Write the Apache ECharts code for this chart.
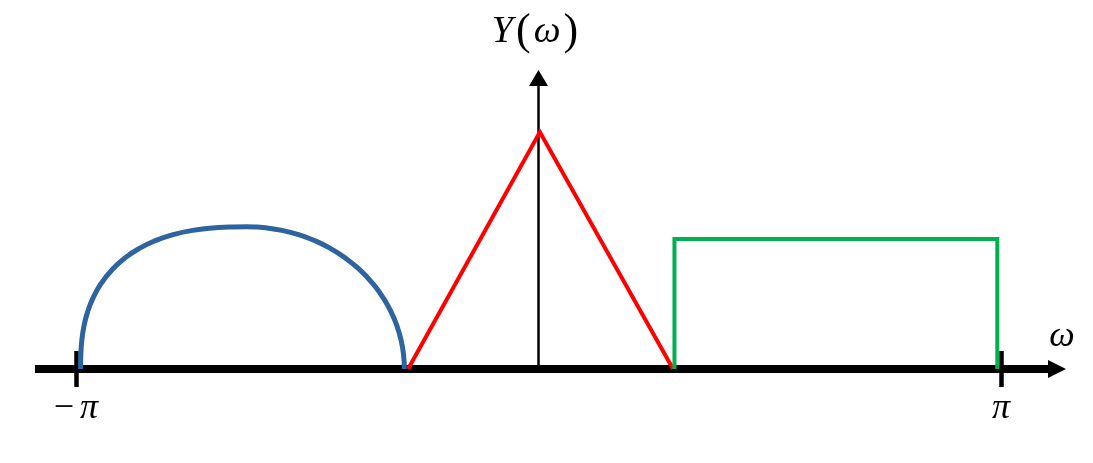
<!DOCTYPE html>
<html>
<head>
<meta charset="utf-8">
<script src="https://cdn.jsdelivr.net/npm/echarts@6/dist/echarts.min.js"></script>
<style>
html,body{margin:0;padding:0;background:#fff;}
#chart{width:1093px;height:463px;}
</style>
</head>
<body>
<div id="chart"></div>
<script>
// x values are in units of pi, y values relative to the triangle's peak height
const xTickValues = [-1, 1];
const xTickLabels = ['−π', 'π'];
const xAxisName = 'ω';
const yAxisName = 'Y(ω)';

const blueX = [-0.990, -0.9895, -0.9874, -0.9828, -0.9750, -0.9630, -0.9459, -0.9215, -0.8932,
               -0.8621, -0.8306, -0.7937, -0.7478, -0.6922, -0.6605, -0.630,
               -0.6135, -0.596, -0.5545, -0.5156, -0.4818, -0.4509, -0.4187, -0.3872, -0.358,
               -0.3356, -0.3184, -0.3057, -0.2969, -0.2917, -0.290];
const blueY = [0, 0.06, 0.12, 0.18, 0.24, 0.30, 0.36, 0.42, 0.47,
               0.51, 0.54, 0.565, 0.585, 0.597, 0.5995, 0.600,
               0.5993, 0.597, 0.585, 0.565, 0.54, 0.51, 0.47, 0.42, 0.36,
               0.30, 0.24, 0.18, 0.12, 0.06, 0];

const redX = [-0.282, 0.003, 0.291];
const redY = [0, 1, 0];

const greenX = [0.294, 0.294, 0.992, 0.992];
const greenY = [0, 0.549, 0.549, 0];

const zip = (xs, ys) => xs.map((x, i) => [x, ys[i]]);

const serif = 'Liberation Serif';

function tickLabel(v) {
  const t = xTickLabels[xTickValues.indexOf(v)];
  if (t === undefined) return '';
  return t.split('').map(ch => ch === 'π' ? '{i|π}' : '{n|' + ch + '}').join('');
}

function richName(t) {
  return t.split('').map(ch => (ch === '(' || ch === ')') ? '{p|' + ch + '}' : '{i|' + ch + '}').join('');
}

const chart = echarts.init(document.getElementById('chart'), null, {renderer: 'canvas'});
chart.setOption({
  animation: false,
  backgroundColor: '#ffffff',
  grid: {left: 35, right: 36, top: 78, bottom: 94, containLabel: false},
  xAxis: [{
    type: 'value',
    position: 'bottom',
    min: -1.0886,
    max: 1.1211,
    z: 3,
    axisLine: {
      show: true, onZero: false,
      symbol: ['none', 'triangle'], symbolSize: [18, 18],
      lineStyle: {color: '#000', width: 8, cap: 'butt'}
    },
    axisTick: {
      show: true, inside: false, length: 18, customValues: xTickValues,
      lineStyle: {color: '#000', width: 4.5}
    },
    axisLabel: {
      show: true, customValues: xTickValues, margin: 22,
      formatter: tickLabel,
      rich: {
        n: {fontFamily: serif, fontSize: 36, color: '#000', padding: [0, 6, 0, 0]},
        i: {fontFamily: serif, fontSize: 36, fontStyle: 'italic', color: '#000'}
      }
    },
    splitLine: {show: false},
    name: xAxisName,
    nameLocation: 'end',
    nameGap: 5,
    nameTextStyle: {
      fontFamily: serif, fontSize: 36, fontStyle: 'italic', color: '#000',
      align: 'center', verticalAlign: 'bottom', padding: [0, 0, 14, 0]
    }
  }, {
    type: 'value',
    position: 'bottom',
    min: -1.0886,
    max: 1.1211,
    z: 3,
    axisLine: {show: false, onZero: false},
    axisTick: {
      show: true, inside: true, length: 18, customValues: xTickValues,
      lineStyle: {color: '#000', width: 4.5}
    },
    axisLabel: {show: false},
    splitLine: {show: false}
  }],
  yAxis: {
    type: 'value',
    min: 0,
    max: 1.2278,
    axisLine: {
      show: true, onZero: true,
      symbol: ['none', 'triangle'], symbolSize: [19, 16],
      lineStyle: {color: '#000', width: 2.5}
    },
    axisTick: {show: false},
    axisLabel: {show: false},
    splitLine: {show: false},
    name: richName(yAxisName),
    nameLocation: 'end',
    nameGap: 24,
    nameTextStyle: {
      align: 'center', verticalAlign: 'bottom', padding: [0, 4, 0, 0],
      rich: {
        i: {fontFamily: serif, fontSize: 38, fontStyle: 'italic', color: '#000'},
        p: {fontFamily: serif, fontSize: 44, color: '#000', padding: [0, 3, 0, 3]}
      }
    }
  },
  series: [{
    type: 'line',
    name: 'blue',
    data: zip(blueX, blueY),
    smooth: true,
    showSymbol: false,
    clip: false,
    lineStyle: {color: '#2d64a0', width: 5}
  }, {
    type: 'line',
    name: 'red',
    data: zip(redX, redY),
    showSymbol: false,
    clip: false,
    lineStyle: {color: '#ff0000', width: 4, join: 'miter'}
  }, {
    type: 'line',
    name: 'green',
    data: zip(greenX, greenY),
    showSymbol: false,
    clip: false,
    lineStyle: {color: '#00b050', width: 4, join: 'miter'}
  }]
});
</script>
</body>
</html>
